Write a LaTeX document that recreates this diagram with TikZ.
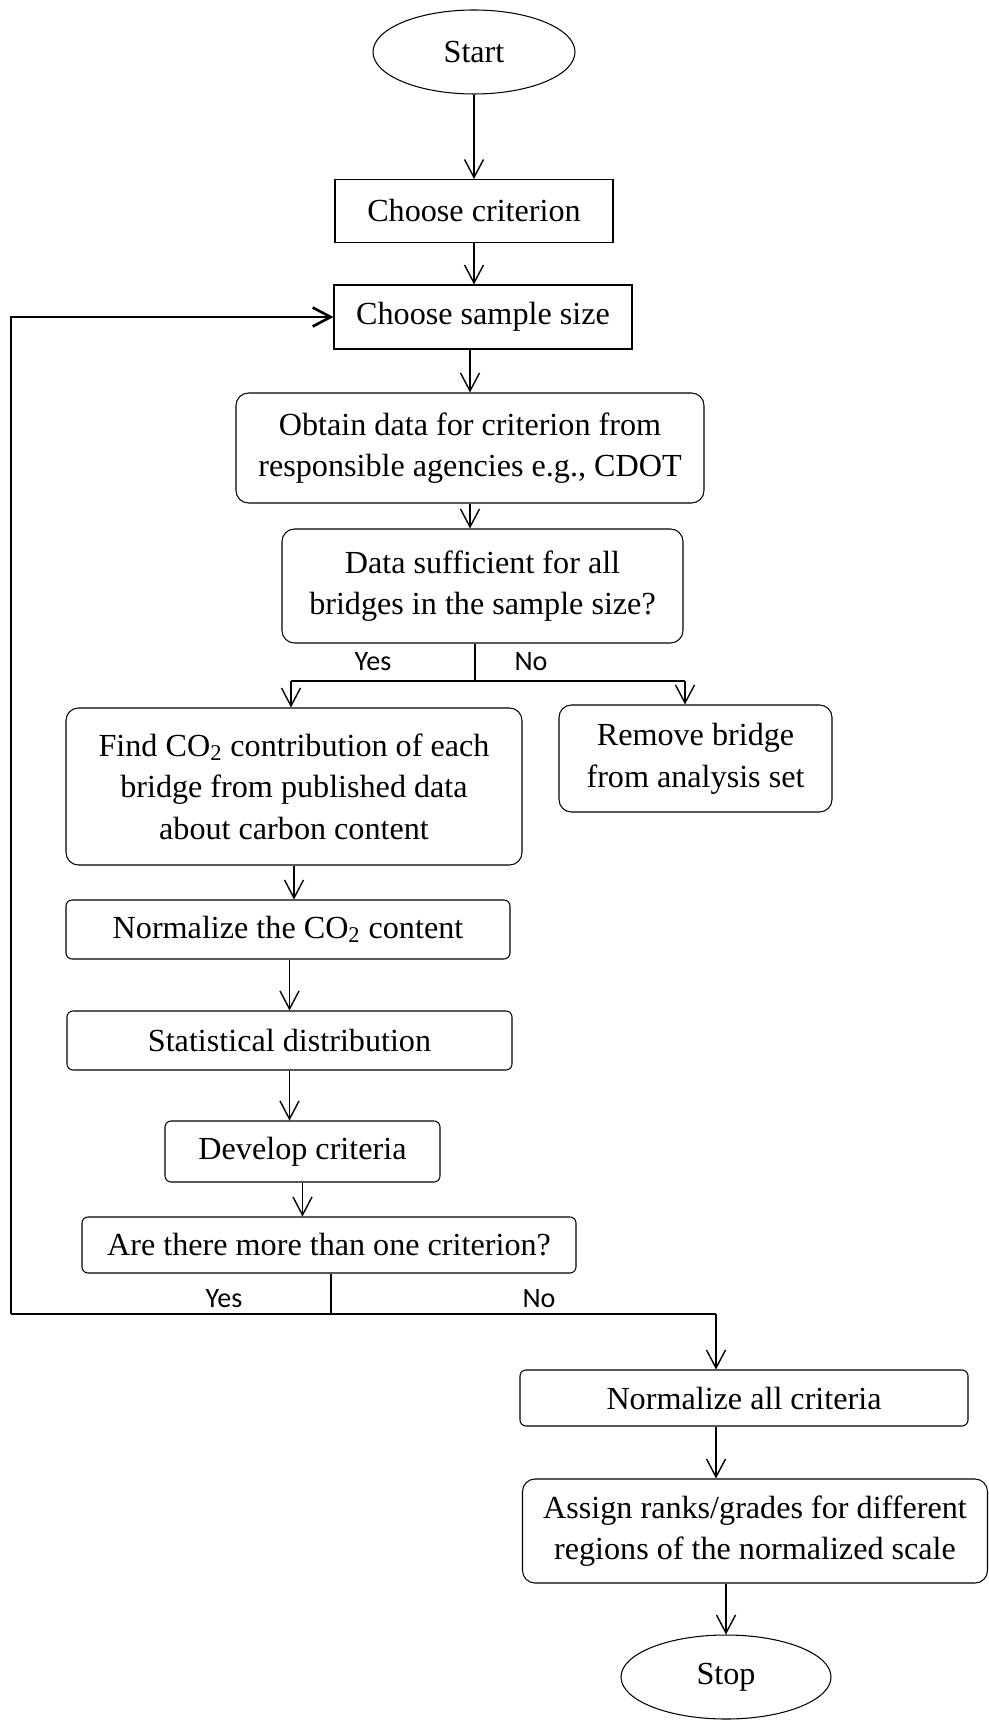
\documentclass[tikz,border=0pt]{standalone}
\usepackage{fontspec}
\setmainfont{Liberation Serif}
\newfontfamily\labfont{Carlito}
\usepackage{tikz}
\usetikzlibrary{positioning,arrows.meta,shapes.geometric,calc}

\begin{document}
\begin{tikzpicture}[
    font=\fontsize{18.3}{23.7}\selectfont,
    every node/.style={align=center, inner sep=0pt},
    terminal/.style={draw, ellipse, line width=0.6pt},
    sqbox/.style={draw, rectangle, line width=0.6pt},
    rbox/.style={draw, rectangle, rounded corners=0.25cm, line width=0.6pt},
    sbox/.style={draw, rectangle, rounded corners=0.12cm, line width=0.6pt},
    lab/.style={font=\labfont\fontsize{16}{19}\selectfont},
    arr/.style={-{Straight Barb[length=0.36cm,width=0.38cm]}, line width=0.8pt},
    branch/.style={line width=1.5pt}
  ]
  \useasboundingbox (0,0) rectangle (19.78,-34.42);

  % Main column
  \node[terminal, minimum width=4.04cm, minimum height=1.68cm] (start) at (9.48,-1.04) {Start};
  \node[sqbox, minimum width=5.56cm, minimum height=1.26cm] (crit) at (9.48,-4.22) {Choose criterion};
  \node[sqbox, minimum width=5.96cm, minimum height=1.28cm] (sample) at (9.66,-6.34) {Choose sample size};
  \node[rbox, minimum width=9.36cm, minimum height=2.20cm] (obtain) at (9.40,-8.96)
    {Obtain data for criterion from\\responsible agencies e.g., CDOT};
  \node[rbox, minimum width=8.02cm, minimum height=2.28cm] (suff) at (9.65,-11.72)
    {Data sufficient for all\\bridges in the sample size?};

  % Yes / no branches
  \node[rbox, minimum width=9.12cm, minimum height=3.14cm] (find) at (5.88,-15.73)
    {Find CO\textsubscript{2} contribution of each\\bridge from published data\\about carbon content};
  \node[rbox, minimum width=5.46cm, minimum height=2.14cm] (remove) at (13.91,-15.17)
    {Remove bridge\\from analysis set};
  \node[sbox, minimum width=8.88cm, minimum height=1.18cm] (normco) at (5.76,-18.59) {Normalize the CO\textsubscript{2} content};
  \node[sbox, minimum width=8.90cm, minimum height=1.18cm] (stat) at (5.79,-20.81) {Statistical distribution};
  \node[sbox, minimum width=5.50cm, minimum height=1.22cm] (develop) at (6.05,-23.03) {Develop criteria};
  \node[sbox, minimum width=9.88cm, minimum height=1.12cm] (more) at (6.58,-24.90) {Are there more than one criterion?};
  \node[sbox, minimum width=8.96cm, minimum height=1.12cm] (normall) at (14.88,-27.96) {Normalize all criteria};
  \node[rbox, minimum width=9.30cm, minimum height=2.08cm] (assign) at (15.10,-30.62)
    {Assign ranks/grades for different\\regions of the normalized scale};
  \node[terminal, minimum width=4.2cm, minimum height=1.68cm] (stop) at (14.52,-33.54) {Stop};

  % Junction points
  \coordinate (j1) at (9.50,-13.62);
  \coordinate (y1) at (5.82,-13.62);
  \coordinate (n1) at (13.70,-13.62);
  \coordinate (j2) at (6.62,-26.28);
  \coordinate (loop) at (0.22,-26.28);
  \coordinate (noR) at (14.32,-26.28);

  % Straight arrows
  \foreach \a/\b/\c in {start/crit/start, crit/sample/crit, sample/obtain/obtain, obtain/suff/obtain,
                        find/normco/find, normco/stat/stat, stat/develop/stat, develop/more/develop,
                        normall/assign/noR, assign/stop/stop} {
    \draw[arr] (\c |- \a.south) -- (\c |- \b.north);
  }

  % First decision
  \draw[branch] (j1 |- suff.south) -- (j1);
  \draw[branch] (y1) -- (n1);
  \draw[arr] (y1) -- (y1 |- find.north);
  \draw[arr] (n1) -- (n1 |- remove.north);
  \node[lab] (yes1) at (7.46,-13.24) {Yes};
  \node[lab] (no1) at (10.62,-13.24) {No};

  % Second decision, loop back
  \draw[branch] (j2 |- more.south) -- (j2);
  \draw[branch] (noR) -- (loop);
  \draw[arr, branch] (loop) |- (sample.west);
  \draw[arr] (noR) -- (noR |- normall.north);
  \node[lab] (yes2) at (4.48,-25.98) {Yes};
  \node[lab] (no2) at (10.78,-25.98) {No};
\end{tikzpicture}
\end{document}
